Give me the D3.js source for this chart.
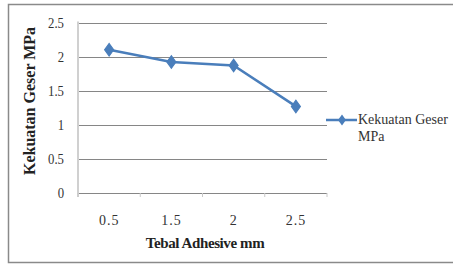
<!DOCTYPE html>
<html>
<head>
<meta charset="utf-8">
<script src="https://cdn.jsdelivr.net/npm/d3@7"></script>
<style>
  body { margin: 0; background: #fff; }
</style>
</head>
<body>
<script>
// chart data
var categories = ["0.5", "1.5", "2", "2.5"];
var values = [2.10, 1.92, 1.87, 1.27];
var yTicks = [0, 0.5, 1, 1.5, 2, 2.5];
var seriesName = "Kekuatan Geser MPa";

var w = 453, h = 264;
var plot = { left: 78, right: 327, top: 22.5, bottom: 193 };
var serif = "Liberation Serif";

var svg = d3.select("body").append("svg")
    .attr("width", w)
    .attr("height", h)
    .attr("font-family", serif);

// outer frame (right side runs off the picture)
svg.append("path")
    .attr("d", "M460,4.5 H8.5 V262.5 H460")
    .attr("fill", "none")
    .attr("stroke", "#8a8a8a")
    .attr("stroke-width", 1.5);

var x = d3.scaleBand().domain(categories).range([plot.left, plot.right]);
var y = d3.scaleLinear().domain([0, 2.5]).range([plot.bottom, plot.top]);

// gridlines
svg.append("g").selectAll("line")
    .data(yTicks)
    .enter().append("line")
    .attr("x1", plot.left)
    .attr("x2", plot.right)
    .attr("y1", function(d) { return Math.round(y(d)) + 0.5; })
    .attr("y2", function(d) { return Math.round(y(d)) + 0.5; })
    .attr("stroke", "#868686")
    .attr("stroke-width", 1);

// y axis labels
svg.append("g").selectAll("text")
    .data(yTicks)
    .enter().append("text")
    .attr("transform", function(d) { return "translate(64," + (y(d) + 5) + ") scale(0.85,1)"; })
    .attr("text-anchor", "end")
    .attr("font-family", serif)
    .attr("font-size", 15)
    .attr("fill", "#333")
    .text(function(d) { return d; });

// y axis line
svg.append("line")
    .attr("x1", plot.left).attr("x2", plot.left)
    .attr("y1", plot.top - 1).attr("y2", plot.bottom + 4)
    .attr("stroke", "#d0d0d0")
    .attr("stroke-width", 2);

// x tick marks at band edges
var edges = categories.map(function(c) { return x(c); }).concat([plot.right]);
svg.append("g").selectAll("line")
    .data(edges)
    .enter().append("line")
    .attr("x1", function(d) { return d; })
    .attr("x2", function(d) { return d; })
    .attr("y1", plot.bottom)
    .attr("y2", plot.bottom + 4)
    .attr("stroke", "#c8c8c8");

// x labels
svg.append("g").selectAll("text")
    .data(categories)
    .enter().append("text")
    .attr("x", function(d) { return x(d) + x.bandwidth() / 2; })
    .attr("y", 225)
    .attr("text-anchor", "middle")
    .attr("font-family", serif)
    .attr("font-size", 14)
    .attr("letter-spacing", 1)
    .attr("fill", "#333")
    .text(function(d) { return d; });

// axis titles
svg.append("text")
    .attr("x", 205)
    .attr("y", 248)
    .attr("text-anchor", "middle")
    .attr("font-family", serif)
    .attr("font-size", 15)
    .attr("font-weight", "bold")
    .attr("letter-spacing", -0.4)
    .attr("fill", "#222")
    .text("Tebal Adhesive mm");

svg.append("text")
    .attr("transform", "translate(35,101) rotate(-90)")
    .attr("text-anchor", "middle")
    .attr("font-family", serif)
    .attr("font-size", 16)
    .attr("font-weight", "bold")
    .attr("fill", "#222")
    .text("Kekuatan Geser MPa");

// series line
var line = d3.line()
    .x(function(d, i) { return x(categories[i]) + x.bandwidth() / 2; })
    .y(function(d) { return y(d); });

svg.append("path")
    .datum(values)
    .attr("d", line)
    .attr("fill", "none")
    .attr("stroke", "#4a7ebb")
    .attr("stroke-width", 2.5);

var diamond = d3.symbol().type(d3.symbolDiamond).size(45);
svg.append("g").selectAll("path")
    .data(values)
    .enter().append("path")
    .attr("d", diamond)
    .attr("transform", function(d, i) {
        return "translate(" + (x(categories[i]) + x.bandwidth() / 2) + "," + y(d) + ") scale(1.25,1)";
    })
    .attr("fill", "#4a7ebb")
    .attr("stroke", "#4a7ebb");

// legend
var lg = svg.append("g").attr("transform", "translate(326,120)");
lg.append("line")
    .attr("x1", 0).attr("x2", 31)
    .attr("stroke", "#4a7ebb")
    .attr("stroke-width", 2.5);
lg.append("path")
    .attr("d", d3.symbol().type(d3.symbolDiamond).size(35))
    .attr("transform", "translate(16,0) scale(1.25,1)")
    .attr("fill", "#4a7ebb");
lg.append("text")
    .attr("x", 32)
    .attr("y", 4)
    .attr("font-family", serif)
    .attr("font-size", 14)
    .attr("fill", "#333")
    .text("Kekuatan Geser");
lg.append("text")
    .attr("x", 32)
    .attr("y", 21)
    .attr("font-family", serif)
    .attr("font-size", 14)
    .attr("fill", "#333")
    .text("MPa");
</script>
</body>
</html>
